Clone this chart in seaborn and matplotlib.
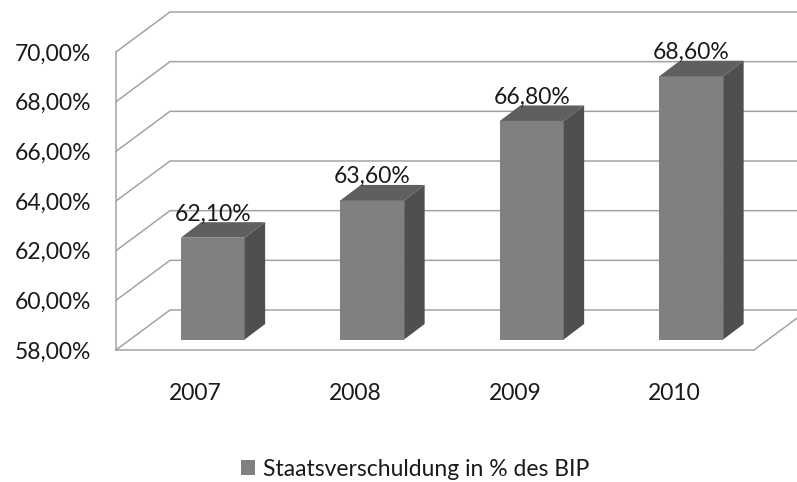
import matplotlib
matplotlib.use("Agg")
import numpy as np
import pandas as pd
import matplotlib.pyplot as plt
import seaborn as sns
from matplotlib.transforms import ScaledTranslation, IdentityTransform
from matplotlib.lines import Line2D
from matplotlib.patches import Polygon, Patch

# ---- data ----
years = ["2007", "2008", "2009", "2010"]
values = [62.1, 63.6, 66.8, 68.6]
value_labels = ["62,10%", "63,60%", "66,80%", "68,60%"]
yticks = [58, 60, 62, 64, 66, 68, 70]
ytick_labels = ["58,00%", "60,00%", "62,00%", "64,00%", "66,00%", "68,00%", "70,00%"]
series_name = "Staatsverschuldung in % des BIP"

# ---- style ----
FRONT = "#808080"
SIDE = "#4f4f4f"
TOP = "#5f5f5f"
GRID = "#a3a3a3"
TXT = "#1a1a1a"
FS = 16.5

sns.set_style("white")
plt.rcParams['font.family'] = ['Lato', 'DejaVu Sans']

W, H = 797, 482
fig = plt.figure(figsize=(W / 100, H / 100), dpi=100)
ax = fig.add_axes([116 / W, (H - 350) / H, (754 - 116) / W, (350 - 52) / H])
ax.patch.set_visible(False)

df = pd.DataFrame({"Jahr": years, "Wert": values})
sns.barplot(data=df, x="Jahr", y="Wert", color=FRONT, saturation=1,
            width=0.4, ax=ax, zorder=3)
ax.set_xlim(-0.5, 3.5)
ax.set_ylim(58, 70)
ax.set_xlabel("")
ax.set_ylabel("")

# perspective offsets in pixels (display, y up)
FOFF = (17.0, 10.5)     # bar front face offset from front plane
BDEP = (20.5, 15.5)     # bar depth
WDEP = (54.0, 40.0)     # wall depth

front_off = ScaledTranslation(FOFF[0] / 100, FOFF[1] / 100, fig.dpi_scale_trans)
ident = IdentityTransform()

for p, v in zip(ax.patches, values):
    p.set_y(58)
    p.set_height(v - 58)
    p.set_transform(ax.transData + front_off)
    p.set_clip_on(False)
    p.set_edgecolor("none")
    xa, ya = ax.transData.transform((p.get_x(), 58))
    xb, yb = ax.transData.transform((p.get_x() + p.get_width(), v))
    xa += FOFF[0]; xb += FOFF[0]; ya += FOFF[1]; yb += FOFF[1]
    dx, dy = BDEP
    side = Polygon([(xb, ya), (xb + dx, ya + dy), (xb + dx, yb + dy), (xb, yb)],
                   closed=True, facecolor=SIDE, edgecolor="none",
                   transform=ident, clip_on=False, zorder=3)
    top = Polygon([(xa, yb), (xb, yb), (xb + dx, yb + dy), (xa + dx, yb + dy)],
                  closed=True, facecolor=TOP, edgecolor="none",
                  transform=ident, clip_on=False, zorder=3)
    ax.add_patch(side)
    ax.add_patch(top)

# gridlines on left wall + back wall
for v in yticks:
    x0, y0 = ax.transData.transform((-0.5, v))
    ln = Line2D([x0, x0 + WDEP[0], W + 10], [y0, y0 + WDEP[1], y0 + WDEP[1]],
                color=GRID, lw=1.1, transform=ident, clip_on=False, zorder=0.5)
    ax.add_line(ln)
# floor right edge
x0, y0 = ax.transData.transform((3.5, 58))
ax.add_line(Line2D([x0, x0 + WDEP[0]], [y0, y0 + WDEP[1]], color=GRID, lw=1.1,
                   transform=ident, clip_on=False, zorder=0.5))

# spines & ticks
for s in ["top", "right"]:
    ax.spines[s].set_visible(False)
for s in ["left", "bottom"]:
    ax.spines[s].set_color(GRID)
    ax.spines[s].set_linewidth(1.1)

ax.set_yticks(yticks)
ax.set_yticklabels(ytick_labels)
ax.tick_params(axis="y", direction="out", length=5.8, width=1.1, color=GRID,
               pad=12, labelsize=FS, labelcolor=TXT)
ax.set_xticks(range(len(years)))
ax.set_xticklabels(years)
ax.set_xticks(np.arange(-0.5, len(years), 1.0), minor=True)
ax.tick_params(axis="x", which="major", length=0, pad=24, labelsize=FS, labelcolor=TXT)
ax.tick_params(axis="x", which="minor", direction="out", length=5.8, width=1.1, color=GRID)

# value labels
for i, (v, lab) in enumerate(zip(values, value_labels)):
    ax.annotate(lab, (i, v), xytext=(12.2, 20), textcoords="offset points",
                ha="center", va="baseline", fontsize=FS, color=TXT, zorder=5)

# legend
fig.legend(handles=[Patch(facecolor=FRONT, edgecolor="none", label=series_name)],
           loc="center", bbox_to_anchor=(415 / W, 1 - 469 / H), frameon=False,
           fontsize=FS, handlelength=0.6, handleheight=0.6, handletextpad=0.35,
           labelcolor=TXT)

fig.savefig("out.png", dpi=100)
